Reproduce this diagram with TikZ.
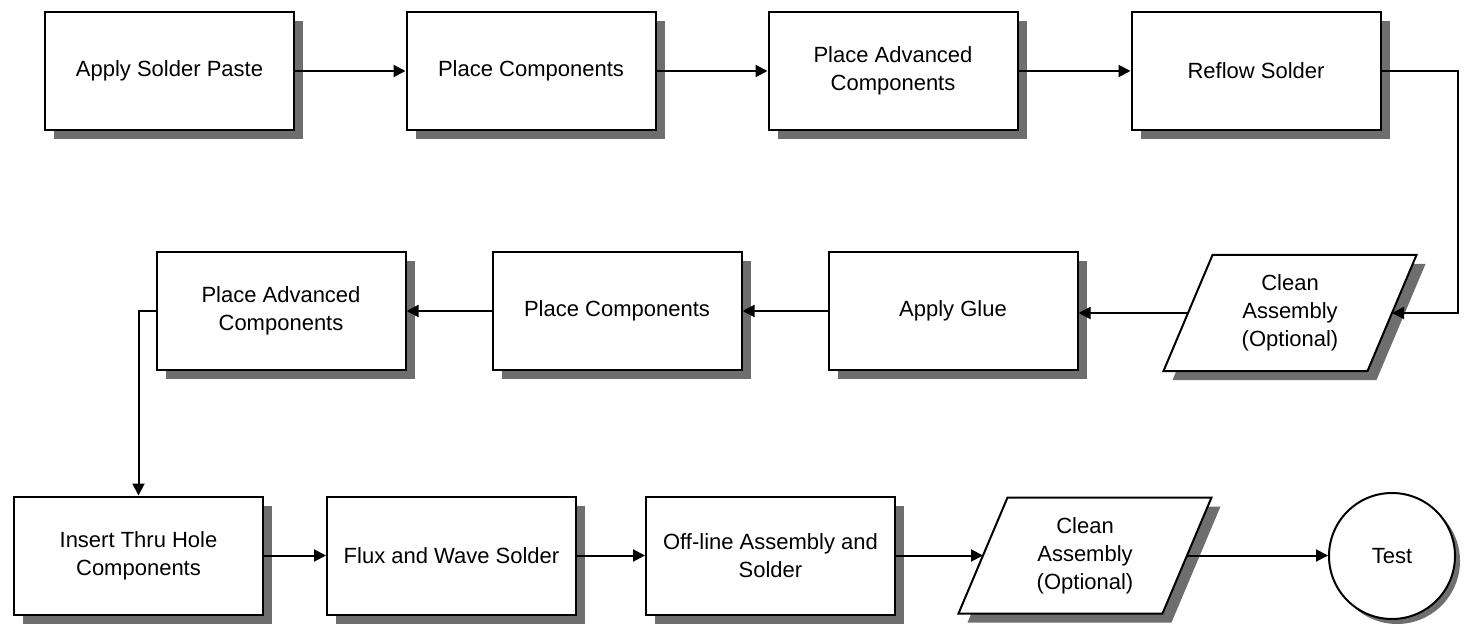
\documentclass[tikz,border=0pt]{standalone}
\usepackage{fontspec}
\setmainfont{Liberation Sans}
\usetikzlibrary{arrows.meta,shadows,calc}
\definecolor{shgray}{HTML}{6E6E6E}
\pgfdeclarelayer{background}
\pgfsetlayers{background,main}
\tikzset{
  every node/.style={font=\fontsize{22}{28}\selectfont, align=center},
  shbase/.style={draw=black, line width=2pt, fill=white,
    general shadow={fill=shgray, shadow xshift=9pt, shadow yshift=-9pt}},
  stepbox/.style={shbase, rectangle, minimum width=249pt, minimum height=118pt, inner sep=0pt},
  iobox/.style={rectangle, minimum width=204pt, minimum height=116pt, inner sep=0pt, outer sep=0pt},
  ioshape/.style={draw=black, line width=2pt, fill=white},
  ioshadow/.style={fill=shgray},
  endbox/.style={draw=black, line width=2pt, fill=white, circle, minimum size=126pt, inner sep=0pt,
    general shadow={fill=shgray, shadow xshift=5pt, shadow yshift=-5pt}},
  arr/.style={draw=black, line width=2pt, -{Triangle[length=12pt,width=12pt]}}
}
\newcommand{\ioframe}[1]{%
  \fill[ioshadow] ($(#1.north west)+(33.5,9)$) -- ($(#1.north east)+(33.5,9)$)
     -- ($(#1.south east)+(-15.5,9)$) -- ($(#1.south west)+(-15.5,9)$) -- cycle;
  \draw[ioshape] ($(#1.north west)+(24.5,0)$) -- ($(#1.north east)+(24.5,0)$)
     -- ($(#1.south east)+(-24.5,0)$) -- ($(#1.south west)+(-24.5,0)$) -- cycle;}
\begin{document}
\begin{tikzpicture}[x=1pt,y=-1pt]
\useasboundingbox (0,0) rectangle (1468,631);
% row 1
\node[stepbox] (a1) at (169.5,71) {Apply Solder Paste};
\node[stepbox] (a2) at (531,71) {Place Components};
\node[stepbox] (a3) at (893,71) {Place Advanced\\Components};
\node[stepbox] (a4) at (1256,71) {Reflow Solder};
% row 2
\node[iobox] (b1) at (1290,313) {Clean\\Assembly\\(Optional)};
\node[stepbox] (b2) at (953,311) {Apply Glue};
\node[stepbox] (b3) at (617,311) {Place Components};
\node[stepbox] (b4) at (281,311) {Place Advanced\\Components};
% row 3
\node[stepbox] (c1) at (138.5,555.5) {Insert Thru Hole\\Components};
\node[stepbox] (c2) at (451.5,555.5) {Flux and Wave Solder};
\node[stepbox] (c3) at (770.5,555.5) {Off-line Assembly and\\Solder};
\node[iobox] (c4) at (1085,555.5) {Clean\\Assembly\\(Optional)};
\node[endbox] (c5) at (1392,556) {Test};
\begin{pgfonlayer}{background}
\ioframe{b1}
\ioframe{c4}
\end{pgfonlayer}
\coordinate (turn) at (1458,71);
% connectors
\draw[arr] (a1.east) -- (a2.west);
\draw[arr] (a2.east) -- (a3.west);
\draw[arr] (a3.east) -- (a4.west);
\draw[arr] (a4.east) -- (turn) |- (b1.east);
\draw[arr] (b1.west) -- (b1.west -| b2.east);
\draw[arr] (b2.west) -- (b3.east);
\draw[arr] (b3.west) -- (b4.east);
\draw[arr] (b4.west) -| (c1.north);
\draw[arr] (c1.east) -- (c2.west);
\draw[arr] (c2.east) -- (c3.west);
\draw[arr] (c3.east) -- (c4.west);
\draw[arr] (c4.east) -- (c4.east -| c5.west);
\end{tikzpicture}
\end{document}
